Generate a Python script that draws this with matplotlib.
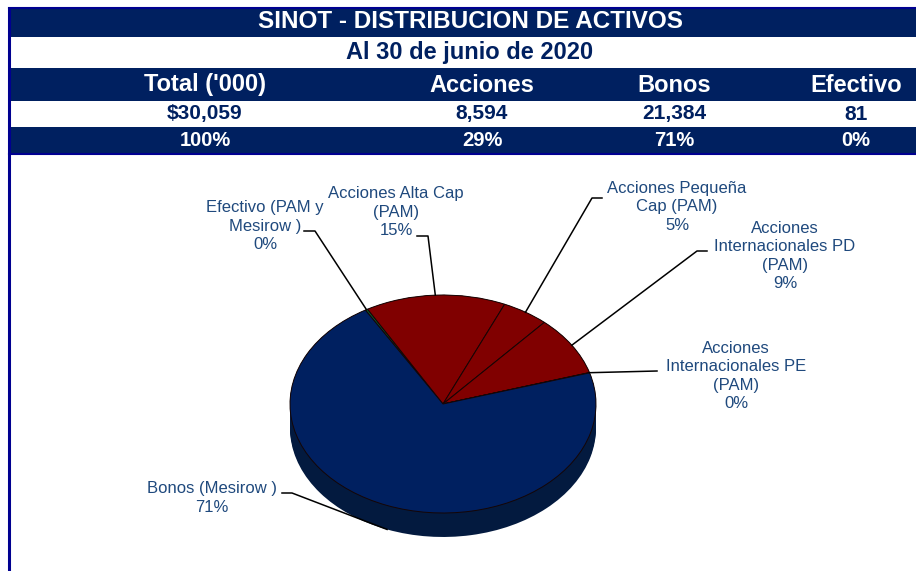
import numpy as np
import matplotlib
matplotlib.use("Agg")
import matplotlib.pyplot as plt
from matplotlib.patches import Rectangle

plt.rcParams['font.family'] = ['Liberation Sans', 'DejaVu Sans']

# Datos de la tabla
titulo = "SINOT - DISTRIBUCION DE ACTIVOS"
subtitulo = "Al 30 de junio de 2020"
columnas = ["Total ('000)", "Acciones", "Bonos", "Efectivo"]
montos = ["$30,059", "8,594", "21,384", "81"]
porcentajes = ["100%", "29%", "71%", "0%"]

# Datos del pastel (orden en sentido horario)
etiquetas = ["Efectivo (PAM y\nMesirow )", "Acciones Alta Cap\n(PAM)",
             "Acciones Pequeña\nCap (PAM)", "Acciones\nInternacionales PD\n(PAM)",
             "Acciones\nInternacionales PE\n(PAM)", "Bonos (Mesirow )"]
valores = [81, 4450, 1480, 2650, 14, 21384]
colores = ["#0b5a2a", "#800000", "#800000", "#800000", "#800000", "#002060"]

W, H = 916, 571
NAVY = "#002060"
BORDE = "#000090"
TXT = "#1F497D"

fig = plt.figure(figsize=(W / 100, H / 100), dpi=100)

# ---- encabezado (coordenadas en pixeles)
bg = fig.add_axes([0, 0, 1, 1])
bg.set_xlim(0, W)
bg.set_ylim(H, 0)
bg.set_axis_off()

for y0, y1 in [(7, 37), (68, 101), (127, 153)]:
    bg.add_patch(Rectangle((9, y0), W - 9, y1 - y0, color=NAVY, lw=0))
bg.plot([9, 9], [7, H], color=BORDE, lw=2.2, solid_capstyle="butt")
bg.plot([9, W], [7.5, 7.5], color=BORDE, lw=1.5)
bg.plot([9, W], [154, 154], color=BORDE, lw=1.5)

bg.text(470, 22, titulo, color="white", fontsize=17.5, fontweight="bold",
        ha="center", va="center")
bg.text(470, 53, subtitulo, color=NAVY, fontsize=17, fontweight="bold",
        ha="center", va="center")
col_x = [205, 482, 674, 856]
for x, c, m, p in zip(col_x, columnas, montos, porcentajes):
    bg.text(x, 85, c, color="white", fontsize=17, fontweight="bold", ha="center", va="center")
    bg.text(x, 114, m, color=NAVY, fontsize=15, fontweight="bold", ha="center", va="center")
    bg.text(x, 140.5, p, color="white", fontsize=14.5, fontweight="bold", ha="center", va="center")

# ---- pastel con efecto 3D
cx, cy, rx, ry = 443, 404, 153, 109
ax = fig.add_axes([0, 0, 1, 1])
ax.patch.set_alpha(0)

def px(x, y):
    return (x - cx) / rx, (cy - y) / ry

depth = 0.22
n = 14
for k in range(n):
    t = depth * (1 - k / (n - 1))
    side = ["#031a3f" if c == NAVY else ("#3a0000" if c == "#800000" else "#05301a") for c in colores]
    ax.pie(valores, colors=side, startangle=120.5, counterclock=False,
           center=(0, -t), wedgeprops=dict(linewidth=0))

wedges, _ = ax.pie(valores, colors=colores, startangle=120.5, counterclock=False,
                   wedgeprops=dict(edgecolor="#150505", linewidth=0.7))

ax.set_aspect("auto")
ax.set_xlim(*sorted([px(0, 0)[0], px(W, 0)[0]]))
ax.set_ylim(px(0, H)[1], px(0, 0)[1])
ax.set_axis_off()

total = sum(valores)
# posicion del texto, codo y extremo del texto (pixeles)
pos = [((265, 226), (315, 231), (304, 231)),
       ((396, 212), (428, 236), (417, 236)),
       ((677, 207), (592, 198), (602, 198)),
       ((785, 256), (697, 251), (707, 251)),
       ((736, 376), (657, 371), (657, 371)),
       ((212, 498), (292, 493), (282, 493))]

for w, lab, v, (tp, ep, hp) in zip(wedges, etiquetas, valores, pos):
    a = np.deg2rad((w.theta1 + w.theta2) / 2)
    axp, ayp = np.cos(a), np.sin(a)
    if ayp < -0.5:
        ayp -= depth
    ex, ey = px(*ep)
    hx, hy = px(*hp)
    ax.plot([axp, ex, hx], [ayp, ey, hy], color="black", lw=1.1)
    tx, ty = px(*tp)
    ax.text(tx, ty, f"{lab}\n{round(v / total * 100):.0f}%", color=TXT,
            fontsize=12, ha="center", va="center", linespacing=1.3)

fig.savefig("out.png", dpi=100)
